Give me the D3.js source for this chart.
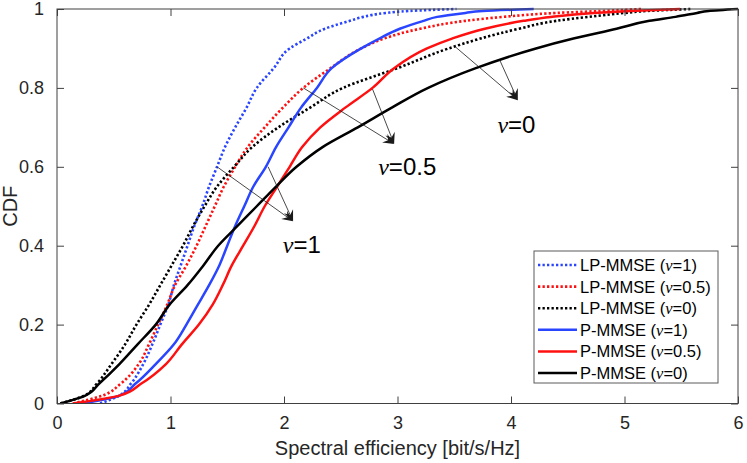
<!DOCTYPE html>
<html>
  <head>
    <meta charset="utf-8">
    <title>CDF of spectral efficiency</title>
    <script src="https://d3js.org/d3.v7.min.js"></script>
    <style>
      body { margin: 0; background: #fff; }
      svg { display: block; font-family: "Liberation Sans", Arial, Helvetica, sans-serif; }
      .nu { font-family: "Liberation Serif", "Times New Roman", serif; font-style: italic; }
    </style>
  </head>
  <body>
    <div id="chart"></div>
    <script>
      // CDF levels, and the spectral efficiency reached at each level
      var cdfLevels = [0, 0.02, 0.05, 0.1, 0.15, 0.2, 0.25, 0.3, 0.35, 0.4, 0.45, 0.5, 0.55,
                       0.6, 0.65, 0.7, 0.75, 0.8, 0.85, 0.9, 0.925, 0.95, 0.97, 0.98, 0.99, 0.995, 1];

      var lpMmseNu1  = [0.38, 0.55, 0.65, 0.76, 0.84, 0.91, 0.98, 1.03, 1.09, 1.15, 1.21, 1.28, 1.34,
                        1.41, 1.48, 1.57, 1.67, 1.76, 1.91, 2.05, 2.20, 2.36, 2.58, 2.70, 2.90, 3.10, 3.52];
      var lpMmseNu05 = [0.14, 0.40, 0.56, 0.72, 0.81, 0.89, 0.97, 1.04, 1.14, 1.23, 1.31, 1.39, 1.47,
                        1.57, 1.68, 1.83, 1.99, 2.17, 2.41, 2.68, 2.88, 3.20, 3.60, 3.93, 4.40, 4.80, 5.15];
      var lpMmseNu0  = [0.03, 0.24, 0.35, 0.48, 0.60, 0.70, 0.81, 0.91, 1.01, 1.11, 1.20, 1.30, 1.41,
                        1.56, 1.72, 1.95, 2.23, 2.52, 3.00, 3.45, 3.73, 4.07, 4.40, 4.68, 5.00, 5.20, 5.58];
      var pMmseNu1   = [0.23, 0.55, 0.69, 0.87, 1.03, 1.14, 1.24, 1.34, 1.43, 1.50, 1.57, 1.65, 1.73,
                        1.84, 1.93, 2.04, 2.15, 2.29, 2.42, 2.68, 2.84, 3.02, 3.23, 3.35, 3.60, 3.75, 4.20];
      var pMmseNu05  = [0.14, 0.55, 0.74, 0.96, 1.10, 1.25, 1.37, 1.46, 1.54, 1.64, 1.74, 1.83, 1.94,
                        2.05, 2.16, 2.32, 2.54, 2.78, 2.97, 3.26, 3.48, 3.77, 4.11, 4.35, 4.73, 5.05, 5.49];
      var pMmseNu0   = [0.03, 0.25, 0.37, 0.55, 0.71, 0.87, 0.99, 1.15, 1.29, 1.42, 1.59, 1.76, 1.93,
                        2.11, 2.34, 2.65, 2.95, 3.27, 3.69, 4.22, 4.55, 4.93, 5.22, 5.45, 5.64, 5.74, 6.00];

      var seriesNames = ["LP-MMSE", "LP-MMSE", "LP-MMSE", "P-MMSE", "P-MMSE", "P-MMSE"];
      var seriesNu = ["1", "0.5", "0", "1", "0.5", "0"];
      var seriesValues = [lpMmseNu1, lpMmseNu05, lpMmseNu0, pMmseNu1, pMmseNu05, pMmseNu0];

      var xTicks = [0, 1, 2, 3, 4, 5, 6];
      var yTicks = [0, 0.2, 0.4, 0.6, 0.8, 1];

      // look of each series (same order)
      var colors = ["#2a45ff", "#ff1010", "#000", "#2a45ff", "#ff1010", "#000"];
      var dotted = [true, true, true, false, false, false];

      var W = 747, H = 463;
      var margin = {top: 9, right: 9, bottom: 59.5, left: 57};
      var width = W - margin.left - margin.right,
          height = H - margin.top - margin.bottom;

      var svg = d3.select("#chart").append("svg")
          .attr("width", W).attr("height", H);
      var g = svg.append("g")
          .attr("transform", "translate(" + margin.left + "," + margin.top + ")");

      var x = d3.scaleLinear().domain([0, 6]).range([0, width]);
      var y = d3.scaleLinear().domain([0, 1]).range([height, 0]);

      var axisColor = "#404040", textColor = "#262626";

      // clip so curves stay in the box
      svg.append("clipPath").attr("id", "clip")
        .append("rect").attr("x", -2).attr("y", -2).attr("width", width + 4).attr("height", height + 2);

      var line = d3.line()
          .x(function(d) { return x(d[0]); })
          .y(function(d) { return y(d[1]); })
          .curve(d3.curveMonotoneY);

      var plot = g.append("g").attr("clip-path", "url(#clip)");
      seriesValues.forEach(function(vals, i) {
        var pts = vals.map(function(v, k) { return [v, cdfLevels[k]]; });
        plot.append("path")
          .datum(pts)
          .attr("d", line)
          .attr("fill", "none")
          .attr("stroke", colors[i])
          .attr("stroke-width", dotted[i] ? 2.6 : 2.5)
          .attr("stroke-dasharray", dotted[i] ? "2.3,2.2" : null)
          .attr("stroke-linejoin", "round");
      });

      // axes with inward ticks, box on
      function styleAxis(sel) {
        sel.select(".domain").remove();
        sel.selectAll(".tick line").attr("stroke", axisColor);
        sel.selectAll(".tick text").attr("fill", textColor)
          .style("font-size", "18px").attr("font-family", null);
      }
      g.append("g").attr("transform", "translate(0," + height + ")")
        .call(d3.axisBottom(x).tickValues(xTicks).tickFormat(d3.format("d"))
              .tickSizeInner(-7).tickSizeOuter(0).tickPadding(13))
        .call(styleAxis);
      g.append("g")
        .call(d3.axisTop(x).tickValues(xTicks).tickFormat("")
              .tickSizeInner(-7).tickSizeOuter(0))
        .call(styleAxis);
      g.append("g")
        .call(d3.axisLeft(y).tickValues(yTicks).tickFormat(function(d) { return d; })
              .tickSizeInner(-7).tickSizeOuter(0).tickPadding(13))
        .call(styleAxis);
      g.append("g").attr("transform", "translate(" + width + ",0)")
        .call(d3.axisRight(y).tickValues(yTicks).tickFormat("")
              .tickSizeInner(-7).tickSizeOuter(0))
        .call(styleAxis);
      g.append("rect")
        .attr("width", width).attr("height", height)
        .attr("fill", "none").attr("stroke", axisColor).attr("stroke-width", 1);

      // axis labels
      g.append("text")
        .attr("x", width / 2).attr("y", height + 51)
        .attr("text-anchor", "middle").attr("fill", textColor)
        .style("font-size", "20px")
        .text("Spectral efficiency [bit/s/Hz]");
      g.append("text")
        .attr("transform", "translate(-40," + (height / 2) + ") rotate(-90)")
        .attr("text-anchor", "middle").attr("fill", textColor)
        .style("font-size", "20px")
        .text("CDF");

      // arrow annotations (data units)
      var notes = [
        {nu: "1",   tx: 1.99, ty: 0.381, tip: [2.08, 0.462], from: [[1.41, 0.6], [1.86, 0.6]]},
        {nu: "0.5", tx: 2.83, ty: 0.579, tip: [2.97, 0.658], from: [[2.17, 0.8], [2.78, 0.797]]},
        {nu: "0",   tx: 3.88, ty: 0.686, tip: [4.06, 0.769], from: [[3.51, 0.904], [3.90, 0.871]]}
      ];
      var ann = g.append("g");
      notes.forEach(function(n) {
        var tx = x(n.tip[0]), ty = y(n.tip[1]);
        n.from.forEach(function(f) {
          var fx = x(f[0]), fy = y(f[1]);
          var a = Math.atan2(ty - fy, tx - fx);
          var L = 11, Wd = 5, N = 7;
          var bx = tx - L * Math.cos(a), by = ty - L * Math.sin(a);
          var nx = tx - N * Math.cos(a), ny = ty - N * Math.sin(a);
          ann.append("line")
            .attr("x1", fx).attr("y1", fy).attr("x2", nx).attr("y2", ny)
            .attr("stroke", "#1a1a1a").attr("stroke-width", 0.8);
          var p1 = [bx - Wd * Math.sin(a), by + Wd * Math.cos(a)];
          var p2 = [bx + Wd * Math.sin(a), by - Wd * Math.cos(a)];
          ann.append("path")
            .attr("d", "M" + tx + "," + ty + "L" + p1 + "L" + nx + "," + ny + "L" + p2 + "Z")
            .attr("fill", "#1a1a1a");
        });
        var t = ann.append("text")
          .attr("x", x(n.tx)).attr("y", y(n.ty))
          .attr("fill", "#000").style("font-size", "24px");
        t.append("tspan").attr("class", "nu").text("\u03bd");
        t.append("tspan").text("=" + n.nu);
      });

      // legend
      var lg = g.append("g").attr("transform", "translate(" + (534 - margin.left) + "," + (251 - margin.top) + ")");
      lg.append("rect")
        .attr("width", 184).attr("height", 132)
        .attr("fill", "#fff").attr("stroke", "#5a5a5a").attr("stroke-width", 1);
      seriesNames.forEach(function(name, i) {
        var ry = 14 + i * 21.6;
        lg.append("line")
          .attr("x1", 4).attr("x2", 43).attr("y1", ry).attr("y2", ry)
          .attr("stroke", colors[i])
          .attr("stroke-width", dotted[i] ? 2.6 : 2.5)
          .attr("stroke-dasharray", dotted[i] ? "2.3,2.2" : null);
        var t = lg.append("text")
          .attr("x", 46).attr("y", ry).attr("dy", "0.36em")
          .attr("fill", "#000").style("font-size", "16.5px");
        t.append("tspan").text(name + " (");
        t.append("tspan").attr("class", "nu").text("\u03bd");
        t.append("tspan").text("=" + seriesNu[i] + ")");
      });
    </script>
  </body>
</html>
